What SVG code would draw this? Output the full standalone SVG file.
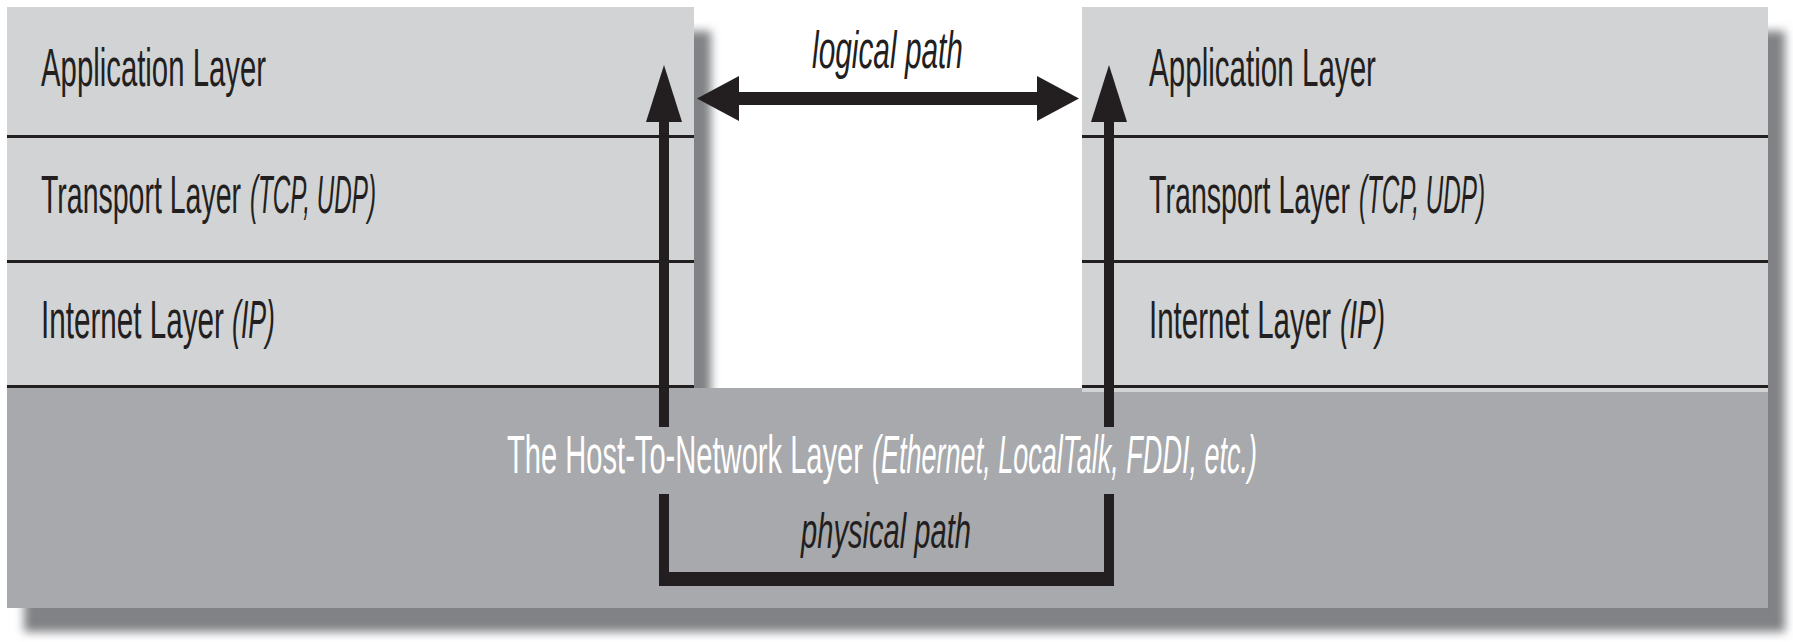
<svg xmlns="http://www.w3.org/2000/svg" width="1793" height="642" viewBox="0 0 1793 642">
<defs>
<style>
.light{fill:#d1d3d4}
.dark{fill:#a7a9ac}
.sep{stroke:#231f20;stroke-width:3}
.t{font-family:"Liberation Sans",Arial,sans-serif;font-size:54px;fill:#231f20}
.i{font-style:italic}
.w{fill:#ffffff}
.conn{stroke:#231f20;fill:none}
</style>
<filter id="blur" x="-5%" y="-10%" width="110%" height="120%">
<feGaussianBlur stdDeviation="5"/>
</filter>
<marker id="headV" markerUnits="userSpaceOnUse" markerWidth="57" markerHeight="36" refX="0" refY="18" orient="auto" overflow="visible">
<path d="M0,0 L57,18 L0,36 Z" fill="#231f20"/>
</marker>
<marker id="headH" markerUnits="userSpaceOnUse" markerWidth="42" markerHeight="45" refX="0" refY="22.5" orient="auto-start-reverse" overflow="visible">
<path d="M0,0 L42,22.5 L0,45 Z" fill="#231f20"/>
</marker>
</defs>
<rect width="1793" height="642" fill="#ffffff"/>
<g id="shadow">
<path d="M7,7 H694 V387 H1082 V7 H1768 V608 H7 Z" transform="translate(17,24)" fill="#808285" filter="url(#blur)"/>
</g>
<g id="host-to-network">
<rect class="dark" x="7" y="388" width="1761" height="220"/>
<text class="t w" transform="translate(507,473) scale(0.534,1)" textLength="666.7" lengthAdjust="spacingAndGlyphs">The Host-To-Network Layer</text>
<text class="t w i" transform="translate(872,473) scale(0.497,1)" textLength="774.6" lengthAdjust="spacingAndGlyphs">(Ethernet, LocalTalk, FDDI, etc.)</text>
</g>
<g id="left-application">
<rect class="light" x="7" y="7" width="687" height="130"/>
<text class="t" transform="translate(41,86) scale(0.543,1)" textLength="414.4" lengthAdjust="spacingAndGlyphs">Application Layer</text>
</g>
<g id="left-transport">
<rect class="light" x="7" y="137" width="687" height="125"/>
<text class="t" transform="translate(41,213) scale(0.525,1)" textLength="381" lengthAdjust="spacingAndGlyphs">Transport Layer</text>
<text class="t i" transform="translate(250,213) scale(0.4375,1)" textLength="288" lengthAdjust="spacingAndGlyphs">(TCP, UDP)</text>
</g>
<g id="left-internet">
<rect class="light" x="7" y="262" width="687" height="125"/>
<text class="t" transform="translate(41,338) scale(0.549,1)" textLength="333.3" lengthAdjust="spacingAndGlyphs">Internet Layer</text>
<text class="t i" transform="translate(232,338) scale(0.494,1)" textLength="87" lengthAdjust="spacingAndGlyphs">(IP)</text>
</g>
<g id="right-application">
<rect class="light" x="1082" y="7" width="686" height="130"/>
<text class="t" transform="translate(1149,86) scale(0.548,1)" textLength="414.2" lengthAdjust="spacingAndGlyphs">Application Layer</text>
</g>
<g id="right-transport">
<rect class="light" x="1082" y="137" width="686" height="125"/>
<text class="t" transform="translate(1149,213) scale(0.527,1)" textLength="381.4" lengthAdjust="spacingAndGlyphs">Transport Layer</text>
<text class="t i" transform="translate(1359,213) scale(0.4375,1)" textLength="288" lengthAdjust="spacingAndGlyphs">(TCP, UDP)</text>
</g>
<g id="right-internet">
<rect class="light" x="1082" y="262" width="686" height="130"/>
<text class="t" transform="translate(1149,338) scale(0.546,1)" textLength="333.3" lengthAdjust="spacingAndGlyphs">Internet Layer</text>
<text class="t i" transform="translate(1340,338) scale(0.517,1)" textLength="87" lengthAdjust="spacingAndGlyphs">(IP)</text>
</g>
<g id="separators">
<line class="sep" x1="7" y1="136.5" x2="694" y2="136.5"/>
<line class="sep" x1="7" y1="261.5" x2="694" y2="261.5"/>
<line class="sep" x1="7" y1="386.5" x2="694" y2="386.5"/>
<line class="sep" x1="1082" y1="136.5" x2="1768" y2="136.5"/>
<line class="sep" x1="1082" y1="261.5" x2="1768" y2="261.5"/>
<line class="sep" x1="1082" y1="386.5" x2="1768" y2="386.5"/>
</g>
<g id="connectors">
<path class="conn" d="M739,98.5 H1037" stroke-width="13" marker-start="url(#headH)" marker-end="url(#headH)"/>
<text class="t i" transform="translate(812,68) scale(0.574,1)" style="font-size:52px" textLength="263" lengthAdjust="spacingAndGlyphs">logical path</text>
<path class="conn" d="M664,427 V122" stroke-width="10" marker-end="url(#headV)"/>
<path class="conn" d="M1109,427 V122" stroke-width="10" marker-end="url(#headV)"/>
<path d="M659,494 H669 V572 H1104 V494 H1114 V586 H659 Z" fill="#231f20"/>
<text class="t i" transform="translate(801,548) scale(0.583,1)" style="font-size:50px" textLength="291.6" lengthAdjust="spacingAndGlyphs">physical path</text>
</g>
</svg>
